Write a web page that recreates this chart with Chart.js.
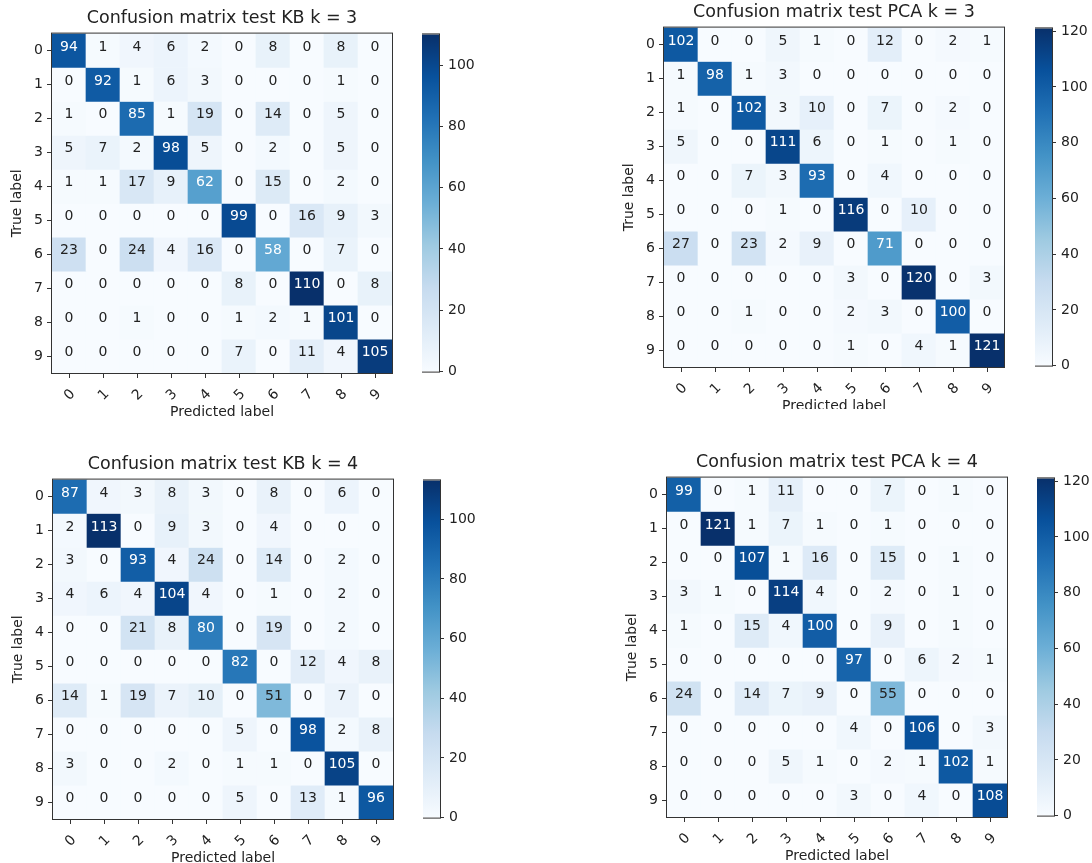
<!DOCTYPE html>
<html><head><meta charset="utf-8">
<script src="https://cdn.jsdelivr.net/npm/chart.js@4.4.0/dist/chart.umd.min.js"></script>
<style>
html,body{margin:0;padding:0;background:#fff;}
body{width:1092px;height:863px;overflow:hidden;position:relative}
.wrap{position:absolute;overflow:hidden}
canvas{display:block;position:absolute}
</style></head><body>
<script>
const classes = ['0','1','2','3','4','5','6','7','8','9'];

const kb3 = [
  [94,1,4,6,2,0,8,0,8,0],
  [0,92,1,6,3,0,0,0,1,0],
  [1,0,85,1,19,0,14,0,5,0],
  [5,7,2,98,5,0,2,0,5,0],
  [1,1,17,9,62,0,15,0,2,0],
  [0,0,0,0,0,99,0,16,9,3],
  [23,0,24,4,16,0,58,0,7,0],
  [0,0,0,0,0,8,0,110,0,8],
  [0,0,1,0,0,1,2,1,101,0],
  [0,0,0,0,0,7,0,11,4,105]
];
const pca3 = [
  [102,0,0,5,1,0,12,0,2,1],
  [1,98,1,3,0,0,0,0,0,0],
  [1,0,102,3,10,0,7,0,2,0],
  [5,0,0,111,6,0,1,0,1,0],
  [0,0,7,3,93,0,4,0,0,0],
  [0,0,0,1,0,116,0,10,0,0],
  [27,0,23,2,9,0,71,0,0,0],
  [0,0,0,0,0,3,0,120,0,3],
  [0,0,1,0,0,2,3,0,100,0],
  [0,0,0,0,0,1,0,4,1,121]
];
const kb4 = [
  [87,4,3,8,3,0,8,0,6,0],
  [2,113,0,9,3,0,4,0,0,0],
  [3,0,93,4,24,0,14,0,2,0],
  [4,6,4,104,4,0,1,0,2,0],
  [0,0,21,8,80,0,19,0,2,0],
  [0,0,0,0,0,82,0,12,4,8],
  [14,1,19,7,10,0,51,0,7,0],
  [0,0,0,0,0,5,0,98,2,8],
  [3,0,0,2,0,1,1,0,105,0],
  [0,0,0,0,0,5,0,13,1,96]
];
const pca4 = [
  [99,0,1,11,0,0,7,0,1,0],
  [0,121,1,7,1,0,1,0,0,0],
  [0,0,107,1,16,0,15,0,1,0],
  [3,1,0,114,4,0,2,0,1,0],
  [1,0,15,4,100,0,9,0,1,0],
  [0,0,0,0,0,97,0,6,2,1],
  [24,0,14,7,9,0,55,0,0,0],
  [0,0,0,0,0,4,0,106,0,3],
  [0,0,0,5,1,0,2,1,102,1],
  [0,0,0,0,0,3,0,4,0,108]
];
const cbTicks = [0,20,40,60,80,100,120];

Chart.defaults.font.family = '"DejaVu Sans", sans-serif';
Chart.defaults.color = '#222';

const BLUES = [[247,251,255],[222,235,247],[198,219,239],[158,202,225],[107,174,214],[66,146,198],[33,113,181],[8,81,156],[8,48,107]];
function blues(t){
  t = Math.max(0, Math.min(1, t));
  const p = t*8, i = Math.min(7, Math.floor(p)), f = p - i;
  const a = BLUES[i], b = BLUES[i+1];
  return 'rgb(' + a.map((v,k)=>Math.round(v+(b[k]-v)*f)).join(',') + ')';
}

const frame = { id:'frame', afterDraw(chart){
  const {ctx, chartArea:a} = chart;
  ctx.save(); ctx.strokeStyle='#333'; ctx.lineWidth=1;
  ctx.strokeRect(a.left-0.5, a.top-0.5, a.right-a.left+1, a.bottom-a.top+1);
  ctx.restore();
}};
const cellText = { id:'cellText', afterDatasetsDraw(chart){
  const ctx = chart.ctx, vmax = chart.options.plugins.cellText.vmax;
  ctx.save();
  ctx.font = '14px "DejaVu Sans"'; ctx.textAlign='center'; ctx.textBaseline='alphabetic';
  chart.data.datasets.forEach((ds,di)=>{
    chart.getDatasetMeta(di).data.forEach((el,j)=>{
      const v = ds.values[j];
      ctx.fillStyle = v > vmax/2 ? '#ffffff' : '#222222';
      ctx.fillText(String(v), el.x, (el.y+el.base)/2);
    });
  });
  ctx.restore();
}};

function makeMatrix(p){
  const YW=50, TH=34, XH=60, CW=340, RP=10;
  const cw = YW+CW+RP, ch = TH+CW+XH;
  const wrap = document.createElement('div'); wrap.className='wrap';
  const top = p.T-TH;
  wrap.style.left = (p.L-YW)+'px'; wrap.style.top = top+'px';
  wrap.style.width = cw+'px'; wrap.style.height = (p.clip ? p.clip-top : ch)+'px';
  const c = document.createElement('canvas'); c.width=cw; c.height=ch;
  c.style.left='0px'; c.style.top='0px';
  wrap.appendChild(c); document.body.appendChild(wrap);
  const vmax = Math.max(...p.m.flat());
  const datasets = p.m.map((row,r)=>({
    label: classes[r], values: row,
    data: row.map(()=>[r-0.5, r+0.5]),
    backgroundColor: row.map(v=>blues(v/vmax)),
    borderWidth:0, barPercentage:1, categoryPercentage:1
  }));
  new Chart(c, {
    type:'bar',
    data:{labels:classes, datasets},
    options:{
      responsive:false, animation:false, devicePixelRatio:1,
      layout:{padding:{left:0,right:RP,top:0,bottom:0}},
      plugins:{
        legend:{display:false}, tooltip:{enabled:false},
        cellText:{vmax},
        title:{display:true, text:p.title, fullSize:false, color:'#222',
          font:{size:17.5, weight:'normal', lineHeight:1.2}, padding:{top:8.8,bottom:4.8}}
      },
      scales:{
        x:{type:'category', stacked:true,
          grid:{display:true, drawOnChartArea:false, offset:false, tickLength:5, color:'#333'},
          border:{display:false},
          ticks:{minRotation:45, maxRotation:45, autoSkip:false, padding:8, labelOffset:4, font:{size:14}, color:'#222'},
          title:{display:true, text:'Predicted label', color:'#222', font:{size:14, lineHeight:1.2}, padding:{top:0,bottom:12.6}},
          afterFit:s=>{s.height=XH;}
        },
        y:{type:'linear', min:-0.5, max:9.5, reverse:true,
          afterBuildTicks:s=>{s.ticks = classes.map((_,i)=>({value:i}));},
          ticks:{callback:v=>classes[v], font:{size:14}, color:'#222', padding:4},
          grid:{drawOnChartArea:false, tickLength:5, color:'#333'},
          border:{display:false},
          title:{display:true, text:'True label', color:'#222', font:{size:14, lineHeight:1.2}, padding:{top:6.6,bottom:0}},
          afterFit:s=>{s.width=YW;}
        }
      }
    },
    plugins:[cellText, frame]
  });
  makeColorbar(p, vmax);
}

function makeColorbar(p, vmax){
  const YW=50, PAD=12, BW=17;
  const c = document.createElement('canvas');
  c.width = BW+YW; c.height = 340+2*PAD;
  c.style.left = p.cbL+'px'; c.style.top = (p.T-PAD)+'px';
  document.body.appendChild(c);
  new Chart(c, {
    type:'bar',
    data:{labels:[''], datasets:[{
      data:[[0, vmax]],
      backgroundColor:(ctx)=>{
        const a = ctx.chart.chartArea; if(!a) return blues(0.5);
        const g = ctx.chart.ctx.createLinearGradient(0, a.bottom, 0, a.top);
        BLUES.forEach((col,i)=>g.addColorStop(i/8, 'rgb('+col.join(',')+')'));
        return g;
      },
      borderWidth:0, barPercentage:1, categoryPercentage:1
    }]},
    options:{
      responsive:false, animation:false, devicePixelRatio:1,
      layout:{padding:{top:PAD,bottom:PAD,left:0,right:0}},
      plugins:{legend:{display:false}, tooltip:{enabled:false}},
      scales:{
        x:{display:false},
        y:{position:'right', min:0, max:vmax,
          afterBuildTicks:s=>{s.ticks = cbTicks.filter(v=>v<=vmax).map(v=>({value:v}));},
          grid:{drawOnChartArea:false, tickLength:4, color:'#333'},
          border:{display:false},
          ticks:{font:{size:14}, color:'#222', padding:5},
          afterFit:s=>{s.width=YW;}
        }
      }
    },
    plugins:[frame]
  });
}

const panels = [
  {title:'Confusion matrix test KB k = 3',  m:kb3,  L:52,  T:33,  clip:417, cbL:422},
  {title:'Confusion matrix test PCA k = 3', m:pca3, L:664, T:27,  clip:409, cbL:1035},
  {title:'Confusion matrix test KB k = 4',  m:kb4,  L:53,  T:479, clip:null, cbL:423},
  {title:'Confusion matrix test PCA k = 4', m:pca4, L:667, T:477, clip:null, cbL:1037}
];
panels.forEach(makeMatrix);
</script>
</body></html>
